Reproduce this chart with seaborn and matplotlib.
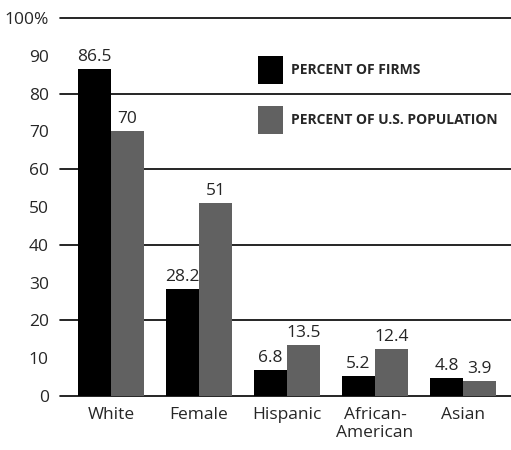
import matplotlib
matplotlib.use("Agg")
import matplotlib.pyplot as plt
import seaborn as sns
import pandas as pd
from matplotlib.patches import Patch

categories = ["White", "Female", "Hispanic", "African-\nAmerican", "Asian"]
firms = [86.5, 28.2, 6.8, 5.2, 4.8]
population = [70, 51, 13.5, 12.4, 3.9]
series_names = ["PERCENT OF FIRMS", "PERCENT OF U.S. POPULATION"]
colors = ["#000000", "#616161"]
ytick_vals = [0, 10, 20, 30, 40, 50, 60, 70, 80, 90, 100]
ytick_labels = ["0", "10", "20", "30", "40", "50", "60", "70", "80", "90", "100%"]

df = pd.DataFrame({
    "category": categories * 2,
    "series": [series_names[0]] * len(categories) + [series_names[1]] * len(categories),
    "value": firms + population,
})

sns.set_style("white")
plt.rcParams["font.family"] = ["Open Sans", "DejaVu Sans"]

fs = 12.5
fig = plt.figure(figsize=(5.11, 4.5), dpi=100)
ax = fig.add_axes([60 / 511, 54 / 450, 1 - 60 / 511, 378 / 450])

sns.barplot(data=df, x="category", y="value", hue="series", order=categories,
            hue_order=series_names, palette=colors, width=0.75, saturation=1,
            edgecolor="none", linewidth=0, ax=ax, legend=False)

ax.set_ylim(0, 100)
ax.set_xlim(-0.58, 4.545)
ax.set_yticks(ytick_vals)
ax.set_yticklabels(ytick_labels, fontsize=fs)
ax.tick_params(axis="y", length=0, pad=8)
ax.tick_params(axis="x", length=0, pad=8, labelsize=fs)
for lbl in ax.get_xticklabels():
    lbl.set_linespacing(1.15)
ax.set_xlabel("")
ax.set_ylabel("")
for s in ax.spines.values():
    s.set_visible(False)
for v in [0, 20, 40, 60, 80, 100]:
    ax.axhline(v, color="black", linewidth=1.2, zorder=0, clip_on=False)

for cont in ax.containers:
    ax.bar_label(cont, fmt="%g", padding=3, fontsize=fs)

handles = [Patch(facecolor=c, edgecolor="none") for c in colors]
leg = ax.legend(handles, series_names, loc="upper left", bbox_to_anchor=(0.439, 0.899),
                frameon=False, prop={"family": ["Open Sans", "DejaVu Sans"], "weight": "bold", "size": 10},
                handlelength=1.8, handleheight=2.7, labelspacing=1.6, handletextpad=0.58,
                borderaxespad=0, borderpad=0)

fig.savefig("out.png", dpi=100)
